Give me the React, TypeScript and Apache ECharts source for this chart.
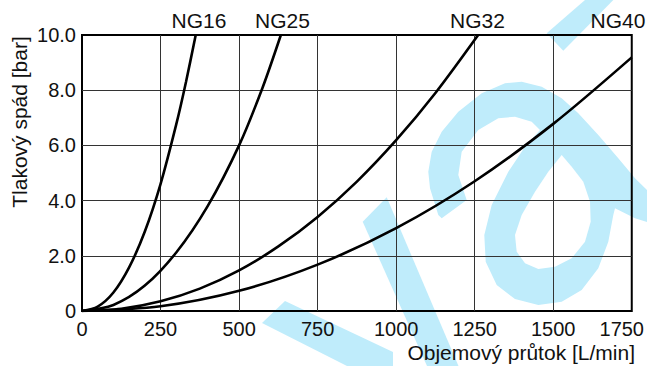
import React, { useEffect, useRef } from 'react';
import * as echarts from 'echarts';

// ---- data ----
const xTicks = [0, 250, 500, 750, 1000, 1250, 1500, 1750];
const yTicks = [0, 2, 4, 6, 8, 10];
const seriesNames = ['NG16', 'NG25', 'NG32', 'NG40'];
const ng16 = [[0, 0], [50, 0.16], [100, 0.67], [150, 1.58], [200, 2.88], [250, 4.6], [300, 6.76], [331, 8.3], [362, 10]];
const ng25 = [[0, 0], [100, 0.22], [200, 0.92], [300, 2.12], [400, 3.8], [500, 6.0], [575, 8.1], [633, 10]];
const ng32 = [[0, 0], [125, 0.08], [250, 0.35], [375, 0.81], [500, 1.47], [625, 2.34], [750, 3.41], [875, 4.69], [1000, 6.19], [1125, 7.9], [1261, 10]];
const ng40 = [[0, 0], [250, 0.17], [500, 0.73], [750, 1.68], [1000, 3.0], [1250, 4.7], [1500, 6.78], [1750, 9.19]];
const xName = 'Objemový průtok [L/min]';
const yName = 'Tlakový spád [bar]';

const FONT = "'Liberation Sans', Arial, Helvetica, sans-serif";
const CYAN = '#bfecfb';

// watermark outline (decoration)
const wmBandA = [[262, 323], [285, 301], [393, 352], [393, 366], [347, 366]];
const wmBandB = [[362.7, 221.7], [386.7, 197.3], [458.5, 366], [427, 366]];
const wmBandC = [[585, 0], [613.3, 0], [563.3, 50.7], [546.7, 33.3]];
const wmLoop = [
  [441.7, 218.3], [438.3, 215], [430, 188.3], [428.3, 171.7], [431.7, 151.7], [441.7, 131.7], [458.3, 111.7],
  [481.7, 93.3], [505, 83.3], [521.7, 81.7], [541.7, 86.7], [561.7, 98.3], [578.3, 113.3], [598.3, 135],
  [618.3, 158.3], [635, 178.3], [647, 190], [647, 222], [635, 218.3], [615, 208.3],
  [613.3, 215], [608.3, 241.7], [598.3, 268.3], [581.7, 290], [561.7, 301.7], [538.3, 305], [515, 299],
  [496.7, 285], [485.7, 261.7], [484.3, 235], [491.7, 205], [508.3, 171.7], [525, 146.7], [540, 130],
  [531.7, 121.7], [515, 116.7], [498.3, 118.3], [478.3, 130], [461.7, 151.7], [458.3, 175], [466.7, 200],
];
const wmHole = [
  [561.7, 155], [571.7, 166.7], [583.3, 181.7], [590, 201.7], [590.7, 221.7], [585, 241.7], [571.7, 258.3],
  [555, 266.7], [538.3, 269], [525, 263.3], [516.7, 251.7], [515, 235], [521.7, 215], [535, 191.7], [548.3, 171.7],
];

export default function App() {
  const ref = useRef<HTMLDivElement>(null);
  useEffect(() => {
    document.body.style.margin = '0';
    const chart = echarts.init(ref.current!, null, { renderer: 'svg' });
    const data = [ng16, ng25, ng32, ng40];
    const poly = (pts: number[][], fill: string, z: number) => ({
      type: 'polygon', silent: true, z, shape: { points: pts }, style: { fill },
    });
    const txt = (text: string, x: number, y: number, align: string, extra: any = {}) => ({
      type: 'text', x, y, z: 10, silent: true, ...extra,
      style: { text, font: `21px ${FONT}`, fill: '#111', align, verticalAlign: 'middle' },
    });
    chart.setOption({
      animation: false,
      backgroundColor: '#fff',
      grid: { left: 82, right: 14, top: 35, bottom: 55, show: true, borderColor: '#000', borderWidth: 2, backgroundColor: 'transparent', z: 1 },
      xAxis: {
        type: 'value', min: xTicks[0], max: xTicks[xTicks.length - 1], interval: 250, z: 1,
        axisLine: { show: false }, axisTick: { show: false },
        splitLine: { show: true, showMinLine: false, showMaxLine: false, lineStyle: { color: '#333', width: 1 } },
        axisLabel: {
          margin: 8, fontSize: 20, fontFamily: FONT, color: '#111',
          formatter: (v: number) => (v === 1750 ? '{last|1750}' : String(v)),
          rich: { last: { padding: [0, 20, 0, 0], fontSize: 20, fontFamily: FONT, color: '#111' } },
        },
      },
      yAxis: {
        type: 'value', min: yTicks[0], max: yTicks[yTicks.length - 1], interval: 2, z: 1,
        axisLine: { show: false }, axisTick: { show: false },
        splitLine: { show: true, showMinLine: false, showMaxLine: false, lineStyle: { color: '#333', width: 1 } },
        axisLabel: {
          margin: 6, fontSize: 20, fontFamily: FONT, color: '#111',
          formatter: (v: number) => (v === 0 ? '0' : v.toFixed(1)),
        },
      },
      series: seriesNames.map((n, i) => ({
        name: n, type: 'line', data: data[i], smooth: 0.3, showSymbol: false, symbol: 'none', z: 5,
        lineStyle: { color: '#000', width: 2.6 },
      })),
      graphic: [
        poly(wmBandA, CYAN, -10),
        poly(wmBandB, CYAN, -10),
        poly(wmBandC, CYAN, -10),
        poly(wmLoop, CYAN, -10),
        poly(wmHole, '#ffffff', -9),
        txt(seriesNames[0], 199, 20, 'center'),
        txt(seriesNames[1], 282.5, 20, 'center'),
        txt(seriesNames[2], 477.5, 20, 'center'),
        txt(seriesNames[3], 618, 20, 'center'),
        txt(xName, 635, 352, 'right'),
        txt(yName, 19, 122, 'center', { rotation: Math.PI / 2 }),
      ],
    });
    return () => chart.dispose();
  }, []);
  return <div ref={ref} style={{ position: 'absolute', left: 0, top: 0, width: 647, height: 366 }} />;
}
